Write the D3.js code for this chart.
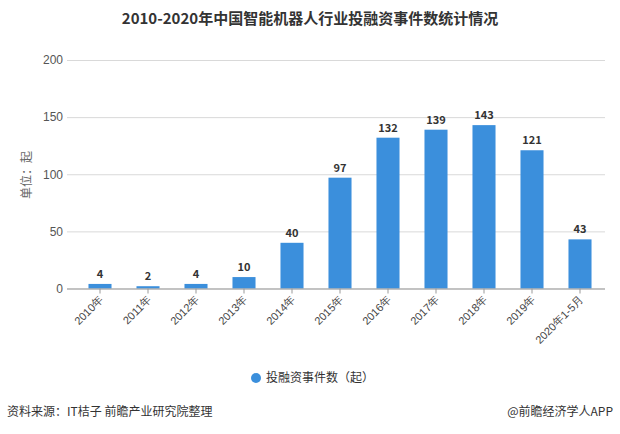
<!DOCTYPE html>
<html><head><meta charset="utf-8">
<script src="https://cdn.jsdelivr.net/npm/d3@7/dist/d3.min.js"></script>
<style>body{margin:0;background:#fff;}svg{display:block;font-family:"Microsoft YaHei","Noto Sans CJK SC",sans-serif;}</style>
</head><body>
<svg id="c" width="620" height="434"></svg>
<script>
const categories = ["2010年","2011年","2012年","2013年","2014年","2015年","2016年","2017年","2018年","2019年","2020年1-5月"];
const values = [4,2,4,10,40,97,132,139,143,121,43];
const yTicks = [0,50,100,150,200];
const seriesName = "投融资事件数（起）";

const svg = d3.select("#c");
const x = d3.scaleBand().domain(categories).range([76,604]).paddingInner(0.52).paddingOuter(0.26);
const y = d3.scaleLinear().domain([0,200]).range([288.5,60]);
const blue = "#3b8fdc";

svg.append("text").attr("x",310).attr("y",24).attr("text-anchor","middle")
  .attr("font-size",15).attr("font-weight","bold").attr("fill","#333")
  .text("2010-2020年中国智能机器人行业投融资事件数统计情况");

// gridlines
const yAxis = d3.axisLeft(y).tickValues(yTicks).tickSize(-(605-67)).tickPadding(6);
const gy = svg.append("g").attr("transform","translate(67,0)").call(yAxis);
gy.select(".domain").remove();
gy.selectAll(".tick line").attr("stroke","#d9d9d9");
gy.selectAll(".tick text").attr("font-size",12).attr("fill","#555").attr("x",-4);

svg.append("text").attr("transform","translate(31,175) rotate(-90)").attr("text-anchor","middle")
  .attr("font-size",12).attr("fill","#666").text("单位：起");

// bars
svg.selectAll("rect.bar").data(values).enter().append("rect")
  .attr("x",(d,i)=>x(categories[i])).attr("width",x.bandwidth())
  .attr("y",d=>y(d)).attr("height",d=>y(0)-y(d)).attr("fill",blue);

svg.selectAll("text.val").data(values).enter().append("text")
  .attr("x",(d,i)=>x(categories[i])+x.bandwidth()/2).attr("y",d=>y(d)-6)
  .attr("text-anchor","middle").attr("font-size",11).attr("font-weight","bold").attr("fill","#333")
  .text(d=>d);

// x axis
const xAxis = d3.axisBottom(x).tickSize(5).tickSizeOuter(0);
const gx = svg.append("g").attr("transform","translate(0,288.5)").call(xAxis);
gx.select(".domain").attr("d","M"+(67-0)+",0.5H605").attr("stroke","#999");
gx.selectAll(".tick line").attr("stroke","#999");
gx.selectAll(".tick text").attr("font-size",11).attr("fill","#444")
  .attr("text-anchor","end").attr("dy",0).attr("y",0)
  .attr("transform","translate(4,12) rotate(-45)");

// legend
svg.append("circle").attr("cx",256).attr("cy",378).attr("r",5).attr("fill",blue);
svg.append("text").attr("x",266).attr("y",382).attr("font-size",12).attr("fill","#333").text(seriesName);

// footer
svg.append("text").attr("x",7).attr("y",416).attr("font-size",12).attr("fill","#333").text("资料来源：IT桔子 前瞻产业研究院整理");
svg.append("text").attr("x",613).attr("y",416).attr("text-anchor","end").attr("font-size",12).attr("fill","#333").text("@前瞻经济学人APP");
</script>
</body></html>
